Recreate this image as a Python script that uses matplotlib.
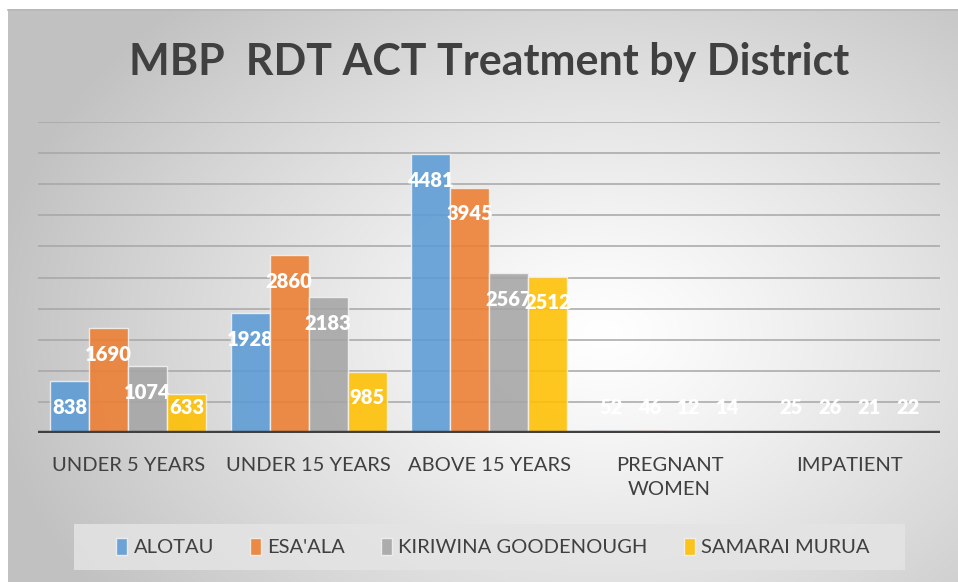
import numpy as np
import matplotlib
matplotlib.use("Agg")
import matplotlib.pyplot as plt
from matplotlib.patches import Rectangle, Patch

categories = ["UNDER 5 YEARS", "UNDER 15 YEARS", "ABOVE 15 YEARS", "PREGNANT\nWOMEN", "IMPATIENT"]
series_names = ["ALOTAU", "ESA'ALA", "KIRIWINA GOODENOUGH", "SAMARAI MURUA"]
alotau = [838, 1928, 4481, 52, 25]
esaala = [1690, 2860, 3945, 46, 26]
kiriwina = [1074, 2183, 2567, 12, 21]
samarai = [633, 985, 2512, 14, 22]
values = [alotau, esaala, kiriwina, samarai]
colors = ["#5B9BD5", "#ED7D31", "#A5A5A5", "#FFC000"]

plt.rcParams['font.family'] = ['Lato', 'DejaVu Sans']

W, H = 958, 582
fig = plt.figure(figsize=(W/100, H/100), dpi=100)

# background radial gradient
bg = fig.add_axes([0, 0, 1, 1])
bg.set_xlim(0, W); bg.set_ylim(H, 0); bg.axis('off')
yy, xx = np.mgrid[0:H, 0:W]
cx, cy = 600, 330
r = np.sqrt(((xx - cx) / 620.0) ** 2 + ((yy - cy) / 460.0) ** 2)
r = np.clip(r, 0, 1)
shade = 1.0 - 0.24 * r ** 1.2
img = np.dstack([shade, shade, shade])
bg.imshow(img, extent=[8, W, H, 9], aspect='auto', zorder=0)
bg.plot([8, W], [9.5, 9.5], color="#b8b8b8", lw=1.2, zorder=1)
# legend box
bg.add_patch(Rectangle((74, 524), 831, 46, facecolor="#e4e4e4", edgecolor="none", alpha=0.85, zorder=1))

left, right = 38 / W, 940 / W
bottom, top = (H - 433) / H, (H - 122) / H
ax = fig.add_axes([left, bottom, right - left, top - bottom])
ax.set_facecolor('none')
ax.set_xlim(-0.5, 4.5)
ax.set_ylim(0, 5000)
ax.set_yticks(np.arange(0, 5001, 500))
ax.yaxis.grid(True, color="#a6a6a6", lw=1.1, zorder=0)
ax.set_axisbelow(True)
for s in ax.spines.values():
    s.set_visible(False)
ax.tick_params(axis='y', left=False, labelleft=False)
ax.tick_params(axis='x', bottom=False, labelcolor="#404040", pad=14)
x = np.arange(len(categories))
ax.set_xticks(x)
ax.set_xticklabels(categories, linespacing=1.45, fontsize=14.5)

bw = 0.216
for i, (vals, col) in enumerate(zip(values, colors)):
    pos = x + (i - 1.5) * bw
    ax.bar(pos, vals, width=bw, color=col, alpha=0.88, edgecolor="#f2f2f2", lw=1.0, zorder=2 + i)
    for p, v in zip(pos, vals):
        ly = max(v - 420, 410)
        ax.text(p, ly, str(v), ha='center', va='center', color='white', fontsize=14.5,
                fontweight='heavy', zorder=2 + i)

ax.axhline(0, color="#404040", lw=3.2, zorder=10)

fig.text(489 / W, 1 - 62 / H, "MBP  RDT ACT Treatment by District", ha='center', va='center',
         fontsize=31, fontweight='bold', color="#404040")

handles = [Patch(facecolor=c, edgecolor="#f2f2f2", alpha=0.88) for c in colors]
leg = fig.legend(handles, series_names, loc='center', bbox_to_anchor=(493 / W, 1 - 547 / H), ncol=4,
                 frameon=False, handlelength=0.55, handleheight=0.9, handletextpad=0.3,
                 columnspacing=1.8, prop={'size': 14.5})
for t in leg.get_texts():
    t.set_color("#404040")

fig.savefig("out.png", dpi=100)
